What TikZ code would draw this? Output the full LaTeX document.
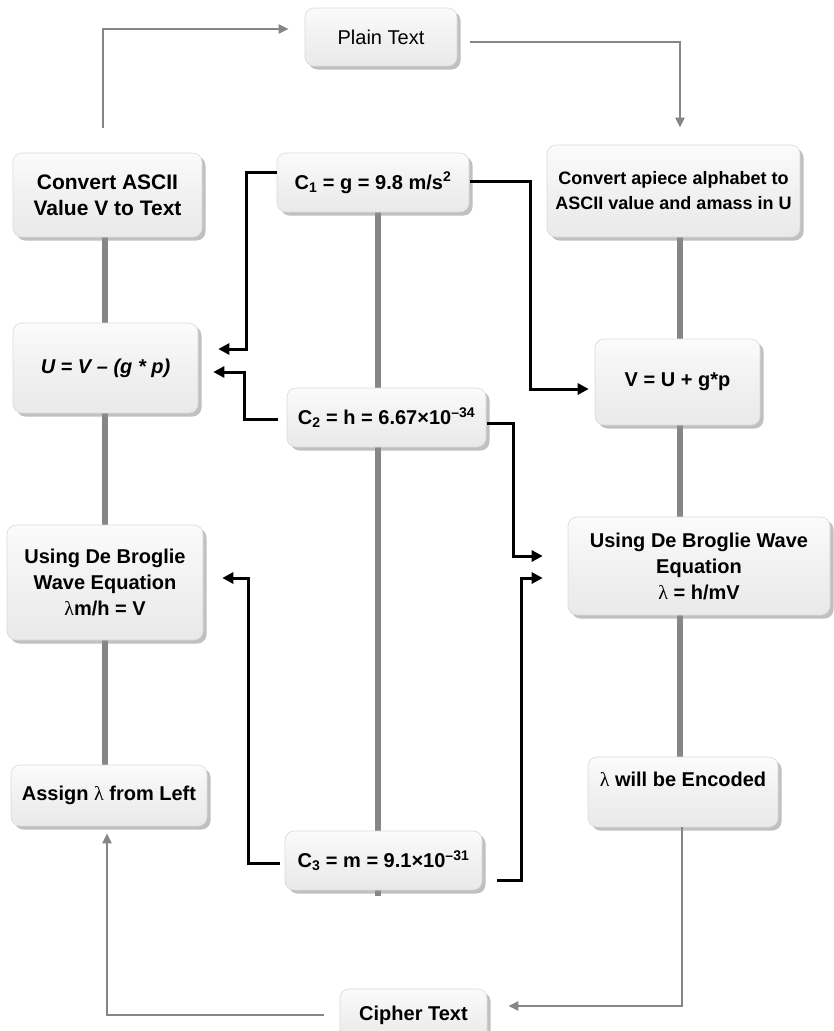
\documentclass[tikz,border=0pt]{standalone}
\usepackage{fontspec}
\setmainfont{Liberation Sans}
\newfontfamily\lamfont{Liberation Serif}
\usetikzlibrary{arrows.meta,shadows,backgrounds,calc}
\newcommand{\lam}{{\lamfont\mdseries λ}}

\begin{document}
\begin{tikzpicture}[x=1pt,y=-1pt,
  box/.style={rectangle, rounded corners=9pt, draw=gray!30, line width=0.6pt,
    top color=gray!3, bottom color=gray!17, middle color=gray!11,
    drop shadow={shadow xshift=3.5pt,shadow yshift=-3.5pt,opacity=0.55,fill=gray!90},
    font=\fontsize{20}{26}\selectfont\bfseries, align=center, inner sep=0pt},
  spine/.style={draw=gray!95, line width=6pt},
  flow/.style={draw=gray!95, line width=2.4pt, -{Triangle[length=10pt,width=9pt]}},
  link/.style={draw=black, line width=3pt, -{Triangle[length=11pt,width=11pt]}},
]
\useasboundingbox (0,0) rectangle (834,1031);

% column axes
\coordinate (lx) at (105,0);
\coordinate (cx) at (378,0);
\coordinate (rx) at (680,0);

% boxes
\node[box, minimum width=152pt, minimum height=58pt] (plain) at (381,37) {\mdseries Plain Text};
\node[box, minimum width=189pt, minimum height=84pt, font=\fontsize{21}{26}\selectfont\bfseries] (ascii) at (107.5,195) {Convert ASCII\\Value V to Text};
\node[box, minimum width=192pt, minimum height=59pt] (c1) at (373,182.5) {C\textsubscript{1} = g = 9.8 m/s\textsuperscript{2}};
\node[box, minimum width=253pt, minimum height=92pt, font=\fontsize{18}{25}\selectfont\bfseries] (apiece) at (673.5,191) {Convert apiece alphabet to\\ASCII value and amass in U};
\node[box, minimum width=185pt, minimum height=90pt] (ueq) at (105.5,368) {\itshape U = V – (g * p)};
\node[box, minimum width=165pt, minimum height=86pt] (veq) at (677.5,382) {V = U + g*p};
\node[box, minimum width=199pt, minimum height=59pt] (c2) at (386.5,417.5) {C\textsubscript{2} = h = 6.67×10\textsuperscript{–34}};
\node[box, minimum width=196pt, minimum height=115pt] (dbl) at (105,582.5) {Using De Broglie\\Wave Equation\\\lam m/h = V};
\node[box, minimum width=262pt, minimum height=98pt] (dbr) at (699,566) {Using De Broglie Wave\\Equation\\\lam{} = h/mV};
\node[box, minimum width=196pt, minimum height=61pt] (assign) at (109,795.5) {Assign \lam{} from Left};
\node[box, minimum width=190pt, minimum height=70pt] (enc) at (683,792) {\lam{} will be Encoded\\\mbox{}};
\node[box, minimum width=197pt, minimum height=59pt] (c3) at (383.5,860.5) {C\textsubscript{3} = m = 9.1×10\textsuperscript{–31}};
\node[box, minimum width=147pt, minimum height=52pt] (cipher) at (413.5,1015) {Cipher Text};

% thick grey spines behind the boxes
\begin{scope}[on background layer]
  \draw[spine] (ascii.center -| lx) -- (ueq.center -| lx);
  \draw[spine] (ueq.center -| lx) -- (dbl.center -| lx);
  \draw[spine] (dbl.center -| lx) -- (assign.center -| lx);
  \coordinate (c3tail) at ($(c3.south -| cx)+(0,6)$);
  \draw[spine] (c1.center -| cx) -- (c2.center -| cx);
  \draw[spine] (c2.center -| cx) -- (c3.center -| cx) -- (c3tail);
  \draw[spine] (apiece.center -| rx) -- (veq.center -| rx);
  \draw[spine] (veq.center -| rx) -- (dbr.center -| rx);
  \draw[spine] (dbr.center -| rx) -- (enc.center -| rx);
\end{scope}

% grey outer loop
\draw[flow] ($(ascii.north)+(-4.5,-25)$) |- ($(plain.west)+(-16,-8)$);
\draw[flow] ($(plain.east)+(13,5)$) -| ($(apiece.north)+(6.5,-17)$);
\draw[flow] ($(enc.south)+(-1,0)$) |- ($(cipher.east)+(21,-9)$);
\draw[flow] ($(cipher.west)+(-16,0)$) -| ($(assign.south)+(-2,7)$);

% constants feeding the equations
\draw[link] ($(c1.west)+(0,-10)$) -- ++(-30,0) |- ($(ueq.east)+(20,-19)$);
\draw[link] ($(c2.west)+(-9,1.5)$) -- ++(-33,0) |- ($(ueq.east)+(15,4)$);
\draw[link] ($(c1.east)+(1,-1.5)$) -- ++(60,0) |- ($(veq.west)+(-6,7)$);
\draw[link] ($(c2.east)+(1,5.5)$) -- ++(26,0) |- ($(dbr.west)+(-25,-10)$);
\draw[link] ($(c3.west)+(-5,2.5)$) -- ++(-31,0) |- ($(dbl.east)+(19,-4.5)$);
\draw[link] ($(c3.east)+(15,19.5)$) -- ++(24,0) |- ($(dbr.west)+(-25,12)$);
\end{tikzpicture}
\end{document}
